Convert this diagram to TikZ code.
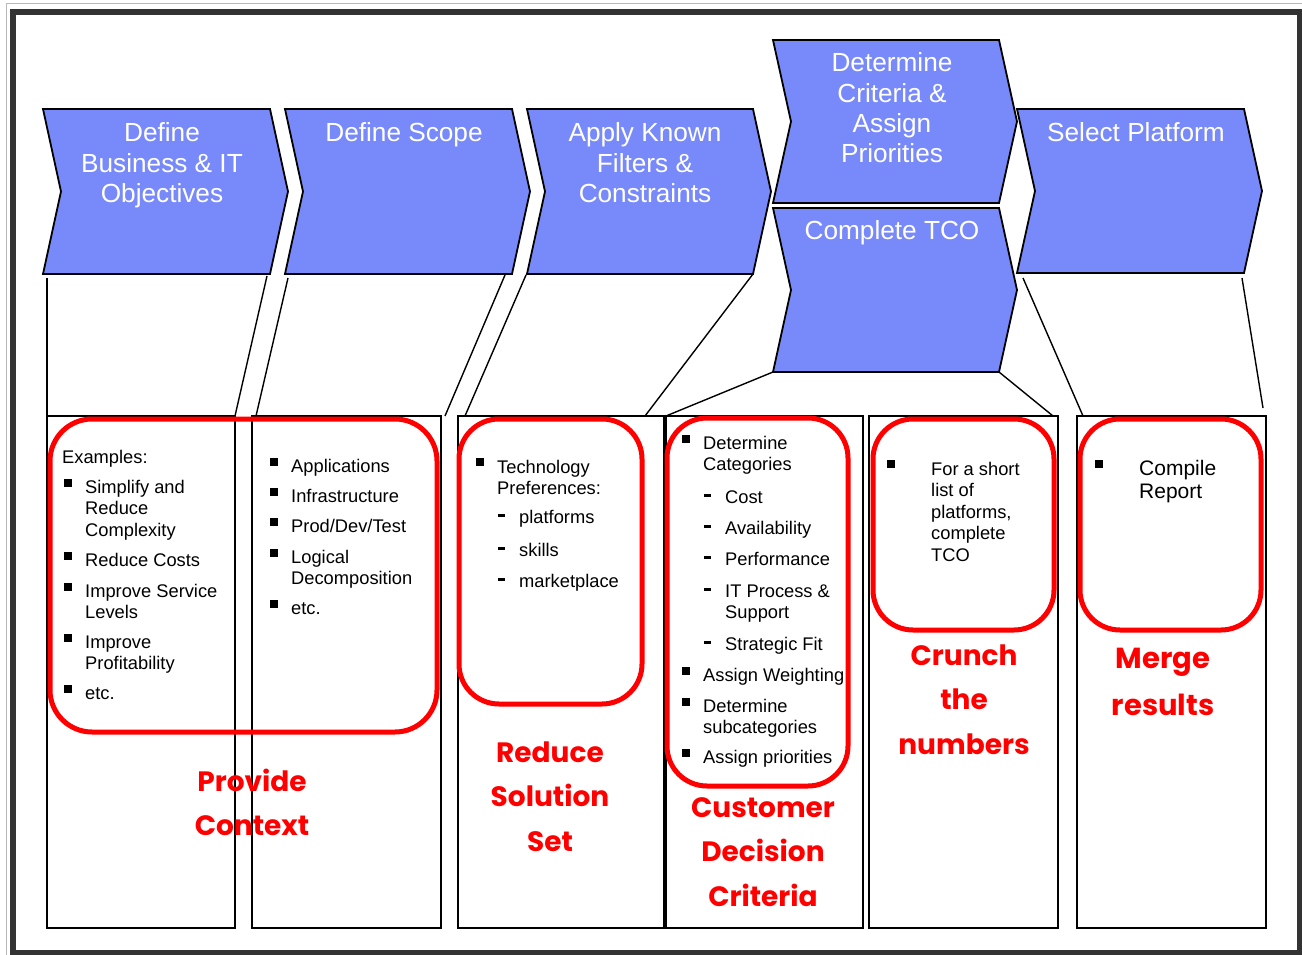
\documentclass[tikz,border=0pt]{standalone}
\usepackage{fontspec}
\setmainfont{Liberation Sans}
\newfontfamily\handfont{Poppins}
\definecolor{chevfill}{RGB}{120,138,250}
\definecolor{framedark}{RGB}{51,51,51}
% stacked lines whose baseline is the first line
\newcommand\stackL[1]{\begin{tabular}[t]{@{}l@{}}#1\end{tabular}}
\newcommand\stackC[1]{\begin{tabular}[t]{@{}c@{}}#1\end{tabular}}
% chevron: name, left x, top y, width, height
\newcommand\chevron[5]{%
  \draw[chev] (#2,#3) -- ({#2+#4},#3) -- ({#2+#4+18},{#3+#5/2}) -- ({#2+#4},{#3+#5})
    -- (#2,{#3+#5}) -- ({#2+18},{#3+#5/2}) -- cycle;
  \coordinate (#1-bl) at (#2,{#3+#5});
  \coordinate (#1-br) at ({#2+#4},{#3+#5});}
\begin{document}
\begin{tikzpicture}[x=1pt,y=-1pt,
  chev/.style={draw=black, line width=1.8pt, fill=chevfill, line join=miter},
  chevtext/.style={text=white, font=\fontsize{26.2}{30.3}\selectfont, anchor=base, inner sep=0pt},
  colbox/.style={draw=black, line width=1.6pt},
  link/.style={draw=black, line width=1.4pt},
  focus/.style={draw=red, line width=5pt, rounded corners=42pt},
  item/.style={font=\fontsize{18.3}{21.6}\selectfont, anchor=base west, inner sep=0pt},
  bigitem/.style={font=\fontsize{21}{23.5}\selectfont, anchor=base west, inner sep=0pt},
  sq/.style={fill=black, minimum size=8pt, inner sep=0pt, anchor=north west},
  dashmark/.style={fill=black, minimum width=7pt, minimum height=2.6pt, inner sep=0pt, anchor=north west},
  note/.style={text=red, font=\handfont\bfseries\fontsize{28}{44.5}\selectfont, anchor=base, inner sep=0pt}
]
\useasboundingbox (0,0) rectangle (1302,955);
\fill[white] (0,0) rectangle (1302,955);

% page frame
\draw[gray!55, line width=1pt] (6.5,960) -- (6.5,4) -- (1310,4);
\draw[framedark, line width=6.5pt] (13,12) rectangle (1300,953);

% process chevrons
\chevron{c1}{43}{109}{227}{165}
\chevron{c2}{285}{109}{227}{165}
\chevron{c3}{527}{109}{226}{165}
\chevron{c4}{773}{40}{226}{163}
\chevron{c5}{773}{208}{226}{164}
\chevron{c6}{1017}{109}{227}{164}

\node[chevtext] (t1) at (162,142) {\stackC{Define\\Business \& IT\\Objectives}};
\node[chevtext] (t2) at (404,142) {Define Scope};
\node[chevtext] (t3) at (645,142) {\stackC{Apply Known\\Filters \&\\Constraints}};
\node[chevtext] (t4) at (892,72) {\stackC{Determine\\Criteria \&\\Assign\\Priorities}};
\node[chevtext] (t5) at (892,239) {Complete TCO};
\node[chevtext] (t6) at (1136,142) {Select Platform};

% detail columns
\draw[colbox] (47,416) rectangle (235,928);
\draw[colbox] (252,416) rectangle (441,928);
\draw[colbox] (458,416) rectangle (664,928);
\draw[colbox] (666,416) rectangle (863,928);
\draw[colbox] (869,416) rectangle (1058,928);
\draw[colbox] (1077,416) rectangle (1266,928);

% box top anchor points
\coordinate (b1l) at (47,416);
\coordinate (b1r) at (235,416);
\coordinate (b2l) at (256,416);
\coordinate (b2r) at (445,416);
\coordinate (b3l) at (465,416);
\coordinate (b3r) at (645,416);
\coordinate (b4l) at (666,416);
\coordinate (b5r) at (1053,416);
\coordinate (b6l) at (1083,416);
\coordinate (b6r) at (1263,408);
% chevron foot points
\coordinate (f1l) at (47,278);
\coordinate (f1r) at (267,276);
\coordinate (f2l) at (288,278);
\coordinate (f2r) at (505,275);
\coordinate (f3l) at (526,275);
\coordinate (f3r) at (753,274);
\coordinate (f6l) at (1023,278);
\coordinate (f6r) at (1242,278);

% connectors from the chevrons to the columns
\draw[link] (f1l) -- (b1l);
\draw[link] (f1r) -- (b1r);
\draw[link] (f2l) -- (b2l);
\draw[link] (f2r) -- (b2r);
\draw[link] (f3l) -- (b3l);
\draw[link] (f3r) -- (b3r);
\draw[link] (c5-bl) -- (b4l);
\draw[link] (c5-br) -- (b5r);
\draw[link] (f6l) -- (b6l);
\draw[link] (f6r) -- (b6r);

% column 1
\node[item] (e0) at (62,463) {Examples:};
\node[sq] (s11) at (64,479) {};
\node[item] (e1) at (85,493) {\stackL{Simplify and\\Reduce\\Complexity}};
\node[sq] (s12) at (64,552) {};
\node[item] (e2) at (85,566) {Reduce Costs};
\node[sq] (s13) at (64,583) {};
\node[item] (e3) at (85,597) {\stackL{Improve Service\\Levels}};
\node[sq] (s14) at (64,634) {};
\node[item] (e4) at (85,648) {\stackL{Improve\\Profitability}};
\node[sq] (s15) at (64,685) {};
\node[item] (e5) at (85,699) {etc.};

% column 2
\node[sq] (s21) at (270,458) {};
\node[item] (a1) at (291,472) {Applications};
\node[sq] (s22) at (270,488) {};
\node[item] (a2) at (291,502) {Infrastructure};
\node[sq] (s23) at (270,518) {};
\node[item] (a3) at (291,532) {Prod/Dev/Test};
\node[sq] (s24) at (270,549) {};
\node[item] (a4) at (291,563) {\stackL{Logical\\Decomposition}};
\node[sq] (s25) at (270,600) {};
\node[item] (a5) at (291,614) {etc.};

% column 3
\node[sq] (s31) at (476,458) {};
\node[item] (p0) at (497,473) {\stackL{Technology\\Preferences:}};
\node[dashmark] (d31) at (498,514) {};
\node[item] (p1) at (519,523) {platforms};
\node[dashmark] (d32) at (498,547) {};
\node[item] (p2) at (519,556) {skills};
\node[dashmark] (d33) at (498,578) {};
\node[item] (p3) at (519,587) {marketplace};

% column 4
\node[sq] (s41) at (682,435) {};
\node[item] (k0) at (703,449) {\stackL{Determine\\Categories}};
\node[dashmark] (d41) at (704,494) {};
\node[item] (k1) at (725,503) {Cost};
\node[dashmark] (d42) at (704,525) {};
\node[item] (k2) at (725,534) {Availability};
\node[dashmark] (d43) at (704,556) {};
\node[item] (k3) at (725,565) {Performance};
\node[dashmark] (d44) at (704,588) {};
\node[item] (k4) at (725,597) {\stackL{IT Process \&\\Support}};
\node[dashmark] (d45) at (704,641) {};
\node[item] (k5) at (725,650) {Strategic Fit};
\node[sq] (s42) at (682,667) {};
\node[item] (k6) at (703,681) {Assign Weighting};
\node[sq] (s43) at (682,698) {};
\node[item] (k7) at (703,712) {\stackL{Determine\\subcategories}};
\node[sq] (s44) at (682,749) {};
\node[item] (k8) at (703,763) {Assign priorities};

% column 5
\node[sq] (s51) at (887,460) {};
\node[item] (n1) at (931,475) {\stackL{For a short\\list of\\platforms,\\complete\\TCO}};

% column 6
\node[sq] (s61) at (1095,460) {};
\node[bigitem] (m1) at (1139,475) {\stackL{Compile\\Report}};

% highlight outlines
\draw[focus] (50,419) rectangle (437,732);
\draw[focus, rounded corners=40pt] (459,419) rectangle (642,704);
\draw[focus, rounded corners=40pt] (667,418) rectangle (848,786);
\draw[focus, rounded corners=40pt] (873,419) rectangle (1054,630);
\draw[focus, rounded corners=40pt] (1080,419) rectangle (1261,630);

% handwritten remarks
\node[note] (r1) at (252,791) {\stackC{Provide\\Context}};
\node[note] (r2) at (550,762) {\stackC{Reduce\\Solution\\Set}};
\node[note] (r3) at (763,817) {\stackC{Customer\\Decision\\Criteria}};
\node[note] (r4) at (964,665) {\stackC{Crunch\\the\\numbers}};
\node[note, font=\handfont\bfseries\fontsize{29}{47}\selectfont] (r5) at (1163,668) {\stackC{Merge\\results}};
\end{tikzpicture}
\end{document}
